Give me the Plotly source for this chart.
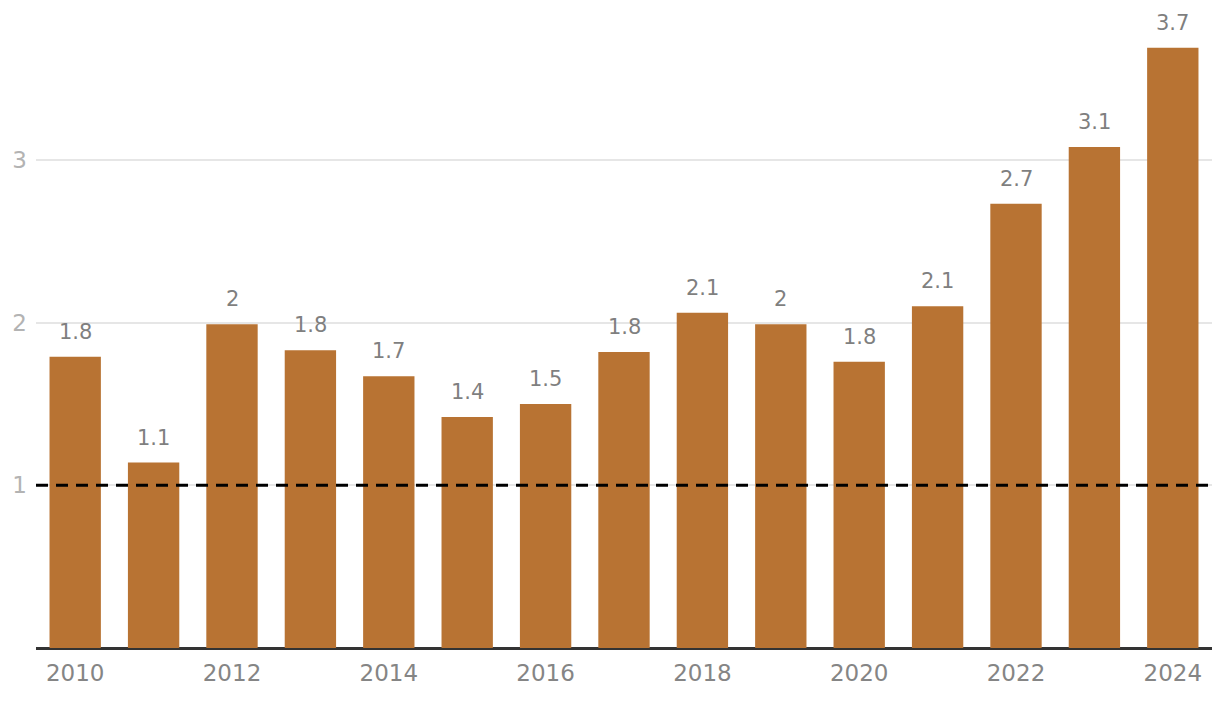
import plotly.graph_objects as go

years = [2010, 2011, 2012, 2013, 2014, 2015, 2016, 2017, 2018, 2019, 2020, 2021, 2022, 2023, 2024]
values = [1.79, 1.14, 1.99, 1.83, 1.67, 1.42, 1.50, 1.82, 2.06, 1.99, 1.76, 2.10, 2.73, 3.08, 3.69]
labels = ["1.8", "1.1", "2", "1.8", "1.7", "1.4", "1.5", "1.8", "2.1", "2", "1.8", "2.1", "2.7", "3.1", "3.7"]
x_ticks = [2010, 2012, 2014, 2016, 2018, 2020, 2022, 2024]
y_ticks = [1, 2, 3]
ref_value = 1

FONT = "DejaVu Sans"
BAR = "#B87333"

fig = go.Figure()
fig.add_trace(go.Bar(x=years, y=values, marker=dict(color=BAR, line=dict(width=0)),
                     width=0.655, hoverinfo="skip"))

for yr, v, lab in zip(years, values, labels):
    fig.add_annotation(x=yr, y=v, text=lab, showarrow=False, yanchor="bottom",
                       yshift=11, font=dict(family=FONT, size=21, color="#7f7f7f"))

fig.add_shape(type="line", xref="paper", x0=0, x1=1, yref="y", y0=ref_value, y1=ref_value,
              line=dict(color="black", width=3, dash="12px,8px"), layer="above")

fig.update_layout(
    width=1212, height=696,
    margin=dict(l=28, r=8, t=12, b=56),
    paper_bgcolor="white", plot_bgcolor="white",
    showlegend=False,
    bargap=0.3,
    xaxis=dict(range=[2009.5, 2024.5], tickmode="array", tickvals=x_ticks,
               ticktext=[str(t) for t in x_ticks], showgrid=False, zeroline=False,
               showline=False, ticks="", ticklabelstandoff=9, automargin=False,
               tickfont=dict(family=FONT, size=23, color="#858585")),
    yaxis=dict(range=[0, 3.86], tickmode="array", tickvals=y_ticks,
               ticktext=[str(t) for t in y_ticks], showgrid=True, gridcolor="#e6e6e6",
               gridwidth=1.5, zeroline=True, zerolinecolor="#333333", zerolinewidth=2.5,
               showline=False, ticks="", ticklabelstandoff=8, automargin=False,
               tickfont=dict(family=FONT, size=23, color="#b3b3b3")),
)

fig.write_html("out.html")
